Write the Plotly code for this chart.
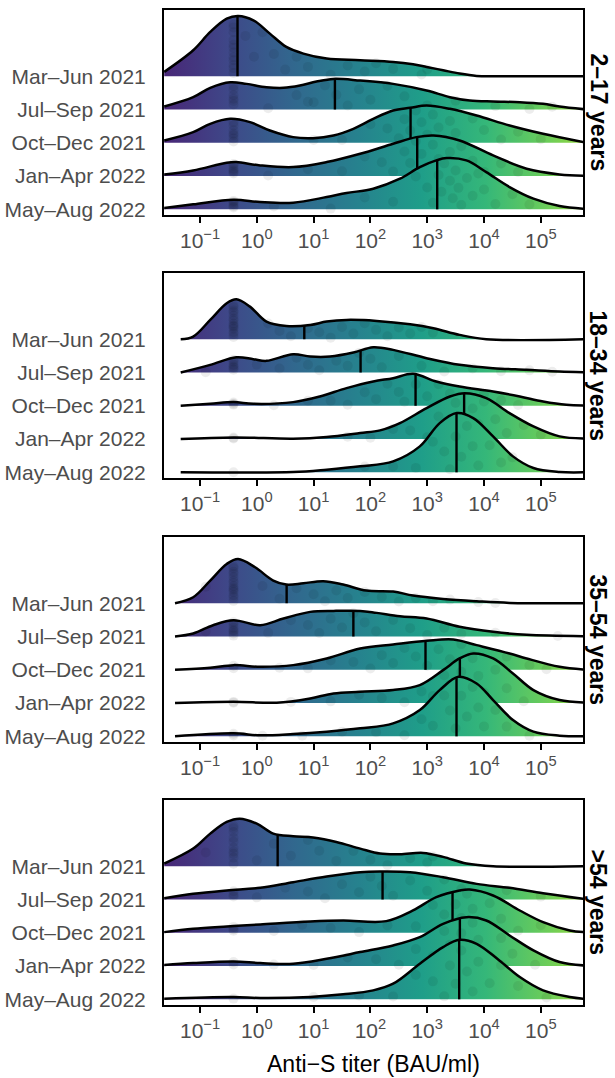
import numpy as np
import plotly.graph_objects as go

PERIODS = ["Mar–Jun 2021", "Jul–Sep 2021", "Oct–Dec 2021", "Jan–Apr 2022", "May–Aug 2022"]
AGE_GROUPS = ["2–17 years", "18–34 years", "35–54 years", ">54 years"]
TICK_VALUES = [-1, 0, 1, 2, 3, 4, 5]
TICK_LABELS = ["10<sup>−1</sup>", "10<sup>0</sup>", "10<sup>1</sup>", "10<sup>2</sup>",
               "10<sup>3</sup>", "10<sup>4</sup>", "10<sup>5</sup>"]
LOD = -0.41  # log10 detection-limit value

# ---- Age 2-17: density curves (x = log10 titer, h = ridge height in row units)
AGE1_X = [
    [-1.63, -1.12, -0.82, -0.53, -0.33, -0.06, 0.23, 0.52, 0.82, 1.23, 1.82, 2.40, 2.75, 2.99, 3.28, 3.57, 3.87, 4.2, 5.75],
    [-1.63, -1.12, -0.82, -0.47, -0.18, 0.17, 0.47, 0.76, 1.05, 1.35, 1.82, 2.40, 2.99, 3.40, 3.75, 4.16, 4.63, 5.04, 5.33, 5.75],
    [-1.63, -1.12, -0.82, -0.47, -0.12, 0.23, 0.64, 0.99, 1.35, 1.70, 2.05, 2.40, 2.70, 2.99, 3.40, 3.87, 4.45, 5.04, 5.75],
    [-1.63, -1.12, -0.53, -0.36, 0.06, 0.64, 1.23, 1.82, 2.40, 2.81, 3.11, 3.57, 4.16, 4.75, 5.33, 5.75],
    [-1.63, -1.12, -0.41, 0.06, 0.64, 1.23, 1.58, 2.05, 2.52, 2.87, 3.16, 3.34, 3.69, 4.04, 4.45, 4.87, 5.33, 5.75],
]
AGE1_H = [
    [0.13, 0.78, 1.33, 1.73, 1.81, 1.68, 1.28, 0.88, 0.68, 0.53, 0.48, 0.43, 0.36, 0.28, 0.18, 0.08, 0.01, 0, 0],
    [0.09, 0.37, 0.65, 0.82, 0.77, 0.67, 0.65, 0.72, 0.84, 0.92, 0.87, 0.77, 0.57, 0.37, 0.27, 0.24, 0.22, 0.17, 0.09, 0.01],
    [0.07, 0.32, 0.57, 0.72, 0.62, 0.37, 0.17, 0.14, 0.22, 0.42, 0.72, 0.97, 1.05, 1.12, 1.02, 0.82, 0.52, 0.27, 0.02],
    [0.05, 0.17, 0.40, 0.42, 0.32, 0.27, 0.42, 0.67, 0.97, 1.17, 1.22, 1.07, 0.62, 0.22, 0.05, 0.01],
    [0.04, 0.15, 0.29, 0.22, 0.20, 0.37, 0.49, 0.62, 0.92, 1.27, 1.47, 1.54, 1.47, 1.12, 0.67, 0.32, 0.10, 0.02],
]
AGE1_MEDIAN = [-0.34, 1.375, 2.707, 2.824, 3.176]
AGE1_LOD_COUNT = [12, 6, 7, 6, 5]
AGE1_POINTS = [
    [-0.2, -0.05, 0.1, 0.3, 0.5, 0.7, 0.9, 1.3, 1.6, 1.9, 2.1, 2.4, 2.9, 3.0],
    [0.2, 0.7, 1.0, 1.2, 1.4, 1.6, 1.8, 2.0, 2.3, 2.6, 3.0, 3.5, 4.2, 4.8, 5.2, 0.9],
    [1.0, 1.5, 2.0, 2.3, 2.5, 2.6, 2.7, 2.8, 2.9, 3.0, 3.1, 3.2, 3.3, 3.4, 3.5, 3.8, 4.0, 4.3, 4.6, 5.0],
    [0.2, 0.9, 1.5, 1.9, 2.2, 2.4, 2.6, 2.7, 2.8, 2.9, 3.0, 3.1, 3.2, 3.3, 3.4, 3.5, 3.6, 3.8, 4.0, 4.3, 4.6],
    [0.3, 1.3, 1.9, 2.4, 2.8, 3.0, 3.1, 3.2, 3.25, 3.3, 3.4, 3.45, 3.5, 3.55, 3.6, 3.7, 3.8, 3.9, 4.0, 4.2, 4.5, 4.8],
]

# ---- Age 18-34
AGE2_X = [
    [-1.34, -1.12, -0.82, -0.53, -0.36, -0.12, 0.17, 0.52, 0.94, 1.23, 1.58, 2.11, 2.70, 3.11, 3.57, 4.04, 5.75],
    [-1.34, -0.82, -0.36, -0.06, 0.17, 0.64, 0.94, 1.29, 1.70, 2.05, 2.40, 2.99, 3.57, 4.16, 4.75, 5.33, 5.75],
    [-1.34, -0.82, -0.41, -0.06, 0.64, 1.11, 1.58, 2.05, 2.40, 2.75, 3.16, 3.57, 4.16, 4.63, 5.04, 5.45, 5.75],
    [-1.34, -0.41, 0.64, 1.23, 1.82, 2.17, 2.52, 2.99, 3.40, 3.66, 4.04, 4.45, 4.87, 5.33, 5.75],
    [-1.34, 0.64, 1.23, 1.82, 2.40, 2.87, 3.22, 3.52, 3.81, 4.16, 4.51, 4.87, 5.33, 5.75],
]
AGE2_H = [
    [0, 0.08, 0.58, 1.08, 1.20, 0.98, 0.53, 0.40, 0.43, 0.53, 0.58, 0.55, 0.45, 0.33, 0.13, 0, 0],
    [0, 0.23, 0.46, 0.40, 0.35, 0.55, 0.48, 0.48, 0.60, 0.76, 0.68, 0.43, 0.23, 0.13, 0.08, 0.03, 0.01],
    [0, 0.06, 0.11, 0.06, 0.11, 0.28, 0.53, 0.73, 0.83, 0.96, 0.73, 0.58, 0.43, 0.28, 0.13, 0.03, 0.01],
    [0, 0.05, 0.01, 0.06, 0.18, 0.26, 0.48, 0.93, 1.28, 1.38, 1.23, 0.78, 0.38, 0.08, 0.02],
    [0, 0.01, 0.08, 0.18, 0.33, 0.78, 1.48, 1.78, 1.63, 1.08, 0.48, 0.13, 0.01, 0],
]
AGE2_MEDIAN = [0.836, 1.827, 2.795, 3.65, 3.516]
AGE2_LOD_COUNT = [14, 6, 3, 2, 1]
AGE2_POINTS = [
    [0.2, 0.4, 0.6, 0.9, 1.1, 1.3, 1.5, 1.7, 1.9, 2.1, 2.3, 2.5, 2.7, 2.9, 3.1],
    [-0.9, 0.0, 0.4, 0.7, 0.9, 1.1, 1.4, 1.6, 1.8, 2.0, 2.2, 2.5, 2.9, 3.3, 3.8, 4.3, 4.8, 5.2],
    [0.3, 0.9, 1.3, 1.6, 1.9, 2.1, 2.3, 2.5, 2.6, 2.8, 3.0, 3.2, 3.4, 3.7, 4.0, 4.3, 4.6],
    [1.6, 2.0, 2.4, 2.7, 3.0, 3.2, 3.4, 3.5, 3.6, 3.7, 3.8, 3.9, 4.0, 4.2, 4.4, 4.7, 5.0],
    [1.9, 2.4, 2.8, 3.1, 3.3, 3.4, 3.5, 3.6, 3.7, 3.8, 3.9, 4.1, 4.3, 4.5],
]

# ---- Age 35-54
AGE3_X = [
    [-1.44, -1.12, -0.82, -0.53, -0.33, -0.03, 0.29, 0.52, 0.82, 1.17, 1.52, 1.93, 2.40, 2.75, 3.28, 3.87, 4.45, 5.75],
    [-1.44, -1.12, -0.77, -0.41, 0.06, 0.47, 0.94, 1.35, 1.82, 2.11, 2.52, 2.99, 3.57, 4.16, 4.75, 5.75],
    [-1.44, -0.82, -0.41, 0.06, 0.64, 1.23, 1.82, 2.40, 2.99, 3.46, 3.87, 4.45, 4.75, 5.33, 5.75],
    [-1.44, -0.41, 0.35, 0.94, 1.35, 1.82, 2.40, 2.87, 3.28, 3.57, 3.81, 4.16, 4.51, 4.87, 5.33, 5.75],
    [-1.44, -0.41, 0.06, 0.64, 1.23, 1.82, 2.40, 2.87, 3.22, 3.55, 3.87, 4.16, 4.51, 4.87, 5.33, 5.75],
]
AGE3_H = [
    [0, 0.18, 0.68, 1.18, 1.33, 1.08, 0.68, 0.56, 0.60, 0.66, 0.56, 0.38, 0.35, 0.23, 0.13, 0.06, 0.01, 0],
    [0, 0.09, 0.34, 0.49, 0.34, 0.54, 0.74, 0.77, 0.77, 0.71, 0.61, 0.54, 0.29, 0.14, 0.05, 0.01],
    [0, 0.06, 0.14, 0.09, 0.14, 0.34, 0.64, 0.76, 0.87, 0.91, 0.74, 0.49, 0.34, 0.09, 0.01],
    [0, 0.04, 0.01, 0.14, 0.29, 0.34, 0.39, 0.54, 0.99, 1.34, 1.49, 1.34, 0.89, 0.39, 0.09, 0.02],
    [0, 0.09, 0.03, 0.07, 0.14, 0.24, 0.39, 0.79, 1.39, 1.79, 1.59, 1.09, 0.49, 0.14, 0.02, 0],
]
AGE3_MEDIAN = [0.525, 1.70, 2.97, 3.575, 3.516]
AGE3_LOD_COUNT = [14, 7, 2, 2, 2]
AGE3_POINTS = [
    [-0.9, 0.1, 0.4, 0.7, 1.0, 1.2, 1.4, 1.6, 1.9, 2.2, 2.5, 2.8, 3.1, 3.4, 3.9, 4.2],
    [-0.9, 0.2, 0.6, 0.9, 1.1, 1.3, 1.5, 1.7, 1.9, 2.1, 2.4, 2.7, 3.0, 3.3, 3.6, 4.2, 5.3],
    [0.4, 0.9, 1.3, 1.7, 2.0, 2.2, 2.4, 2.6, 2.8, 3.0, 3.2, 3.4, 3.6, 3.8, 4.1, 4.4, 4.8, 5.1],
    [0.6, 1.3, 1.8, 2.2, 2.6, 2.9, 3.1, 3.3, 3.4, 3.5, 3.6, 3.7, 3.8, 3.9, 4.0, 4.2, 4.4, 4.7],
    [0.1, 0.8, 1.5, 2.1, 2.6, 2.9, 3.1, 3.3, 3.4, 3.5, 3.6, 3.7, 3.8, 3.9, 4.0, 4.2, 4.4, 4.8],
]

# ---- Age >54
AGE4_X = [
    [-1.63, -1.12, -0.82, -0.53, -0.30, 0.0, 0.29, 0.64, 0.99, 1.40, 1.82, 2.17, 2.52, 2.93, 3.28, 3.69, 4.16, 5.75],
    [-1.63, -1.12, -0.53, 0.06, 0.64, 1.23, 1.82, 2.17, 2.70, 3.28, 3.87, 4.45, 5.04, 5.75],
    [-1.63, -1.12, -0.53, 0.06, 0.94, 1.52, 2.28, 2.75, 3.16, 3.57, 3.75, 4.16, 4.63, 5.04, 5.51, 5.75],
    [-1.63, -1.12, -0.41, 0.06, 0.64, 1.23, 1.82, 2.40, 2.87, 3.28, 3.69, 4.04, 4.45, 4.87, 5.33, 5.75],
    [-1.63, -0.41, 0.06, 0.94, 1.52, 2.05, 2.40, 2.87, 3.28, 3.57, 3.87, 4.27, 4.63, 5.04, 5.51, 5.75],
]
AGE4_H = [
    [0.08, 0.53, 0.98, 1.33, 1.43, 1.28, 0.98, 0.90, 0.86, 0.73, 0.53, 0.38, 0.36, 0.40, 0.28, 0.08, 0, 0],
    [0.04, 0.17, 0.27, 0.35, 0.52, 0.69, 0.82, 0.84, 0.82, 0.67, 0.47, 0.35, 0.19, 0.02],
    [0.02, 0.12, 0.19, 0.25, 0.34, 0.37, 0.35, 0.67, 1.07, 1.27, 1.30, 1.12, 0.67, 0.32, 0.07, 0.02],
    [0.03, 0.09, 0.14, 0.09, 0.07, 0.22, 0.42, 0.62, 0.87, 1.27, 1.47, 1.37, 0.92, 0.47, 0.12, 0.02],
    [0.02, 0.07, 0.04, 0.07, 0.15, 0.27, 0.47, 1.07, 1.57, 1.79, 1.67, 1.17, 0.67, 0.27, 0.07, 0.02],
]
AGE4_MEDIAN = [0.367, 2.214, 3.446, 3.575, 3.563]
AGE4_LOD_COUNT = [10, 3, 3, 2, 1]
AGE4_POINTS = [
    [-0.9, 0.0, 0.3, 0.6, 0.9, 1.1, 1.4, 1.7, 2.0, 2.3, 2.7, 3.0, 3.1],
    [0.0, 0.5, 0.9, 1.2, 1.5, 1.8, 2.0, 2.2, 2.4, 2.7, 3.0, 3.3, 3.6, 4.0, 4.4, 5.0],
    [0.3, 0.8, 1.3, 1.8, 2.3, 2.8, 3.1, 3.3, 3.4, 3.5, 3.6, 3.7, 3.8, 3.9, 4.1, 4.3, 4.6, 5.0],
    [0.3, 1.0, 1.6, 2.1, 2.5, 2.8, 3.1, 3.3, 3.4, 3.5, 3.6, 3.7, 3.8, 3.9, 4.1, 4.3, 4.5, 4.9],
    [1.0, 1.8, 2.4, 2.8, 3.1, 3.3, 3.4, 3.5, 3.6, 3.7, 3.8, 3.9, 4.1, 4.3, 4.6, 5.1],
]

PANELS = [
    (AGE1_X, AGE1_H, AGE1_MEDIAN, AGE1_LOD_COUNT, AGE1_POINTS),
    (AGE2_X, AGE2_H, AGE2_MEDIAN, AGE2_LOD_COUNT, AGE2_POINTS),
    (AGE3_X, AGE3_H, AGE3_MEDIAN, AGE3_LOD_COUNT, AGE3_POINTS),
    (AGE4_X, AGE4_H, AGE4_MEDIAN, AGE4_LOD_COUNT, AGE4_POINTS),
]

# ---------------- layout geometry ----------------
W, H = 615, 1078
M_L, M_R, M_T, M_B = 164, 32, 10, 73
PLOT_H = H - M_T - M_B
PANEL_PX = [(10, 215), (273, 478), (537, 742), (800, 1005)]
X_RANGE = [-1.634, 5.743]
Y_RANGE = [-0.17, 5.99]
FONT = "Liberation Sans, Arial, sans-serif"
GREY = "#4d4d4d"


def paper_y(py):
    return 1 - (py - M_T) / PLOT_H


fig = go.Figure()
n_rows = len(PERIODS)

for p, (XS, HS, MED, LODC, PTS) in enumerate(PANELS):
    xa = "x" if p == 0 else f"x{p+1}"
    ya = "y" if p == 0 else f"y{p+1}"
    for i in range(n_rows):  # top row first; lower rows drawn on top
        base = n_rows - 1 - i
        xs = np.array(XS[i], dtype=float)
        hs = np.array(HS[i], dtype=float)
        # baseline helper trace
        fig.add_trace(go.Scatter(x=[xs[0], xs[-1]], y=[base, base], mode="lines",
                                 line=dict(width=0, color="rgba(0,0,0,0)"),
                                 xaxis=xa, yaxis=ya, showlegend=False, hoverinfo="skip"))
        # ridge with horizontal viridis gradient
        fig.add_trace(go.Scatter(x=xs, y=base + hs, mode="lines",
                                 line=dict(color="black", width=2.5, shape="spline", smoothing=1.0),
                                 fill="tonexty",
                                 fillgradient=dict(type="horizontal", colorscale="Viridis",
                                                   start=-2.7, stop=7.4),
                                 xaxis=xa, yaxis=ya, showlegend=False, hoverinfo="skip"))
        # points (sina-style vertical spread inside the ridge)
        vals = [LOD] * LODC[i] + list(PTS[i])
        vals = np.array(vals, dtype=float)
        k = np.arange(len(vals))
        frac = 0.04 + ((k * 0.6180339887 + 0.31) % 1.0) * 0.9
        py = base + frac * np.interp(vals, xs, hs)
        fig.add_trace(go.Scatter(x=vals, y=py, mode="markers",
                                 marker=dict(size=10, color="rgba(0,0,0,0.07)", line=dict(width=0)),
                                 xaxis=xa, yaxis=ya, showlegend=False, hoverinfo="skip"))
        # median line
        m = MED[i]
        fig.add_trace(go.Scatter(x=[m, m], y=[base, base + float(np.interp(m, xs, hs))],
                                 mode="lines", line=dict(color="black", width=2.4),
                                 xaxis=xa, yaxis=ya, showlegend=False, hoverinfo="skip"))

layout = dict(
    width=W, height=H,
    margin=dict(l=M_L, r=M_R, t=M_T, b=M_B),
    paper_bgcolor="white", plot_bgcolor="white",
    showlegend=False,
    font=dict(family=FONT),
)
annotations = []
for p in range(4):
    top_px, bot_px = PANEL_PX[p]
    dom = [paper_y(bot_px), paper_y(top_px)]
    xk = "xaxis" if p == 0 else f"xaxis{p+1}"
    yk = "yaxis" if p == 0 else f"yaxis{p+1}"
    anchor_y = "y" if p == 0 else f"y{p+1}"
    anchor_x = "x" if p == 0 else f"x{p+1}"
    layout[xk] = dict(domain=[0, 1], anchor=anchor_y, range=X_RANGE,
                      tickvals=TICK_VALUES, ticktext=TICK_LABELS,
                      ticks="outside", ticklen=6, tickwidth=2, tickcolor="black",
                      showline=True, mirror=True, linecolor="black", linewidth=2,
                      showgrid=False, zeroline=False, automargin=False,
                      tickfont=dict(size=21, color=GREY, family=FONT))
    layout[yk] = dict(domain=dom, anchor=anchor_x, range=Y_RANGE,
                      tickvals=list(range(n_rows - 1, -1, -1)), ticktext=PERIODS,
                      ticks="", ticklabelstandoff=12,
                      showline=True, mirror=True, linecolor="black", linewidth=2,
                      showgrid=False, zeroline=False, automargin=False,
                      tickfont=dict(size=21, color=GREY, family=FONT))
    annotations.append(dict(text=f"<b>{AGE_GROUPS[p]}</b>", xref="paper", yref="paper",
                            x=(598 - M_L) / (W - M_L - M_R), y=(dom[0] + dom[1]) / 2,
                            xanchor="center", yanchor="middle", textangle=90, showarrow=False,
                            font=dict(size=23, color="black", family=FONT)))

annotations.append(dict(text="Anti−S titer (BAU/ml)", xref="paper", yref="paper",
                        x=0.5, y=paper_y(1064), xanchor="center", yanchor="middle",
                        showarrow=False, font=dict(size=23, color="black", family=FONT)))
layout["annotations"] = annotations
fig.update_layout(**layout)
fig.write_html("out.html", config={"displayModeBar": False},
               post_script="document.body.style.margin='0';document.body.style.overflow='hidden';")
